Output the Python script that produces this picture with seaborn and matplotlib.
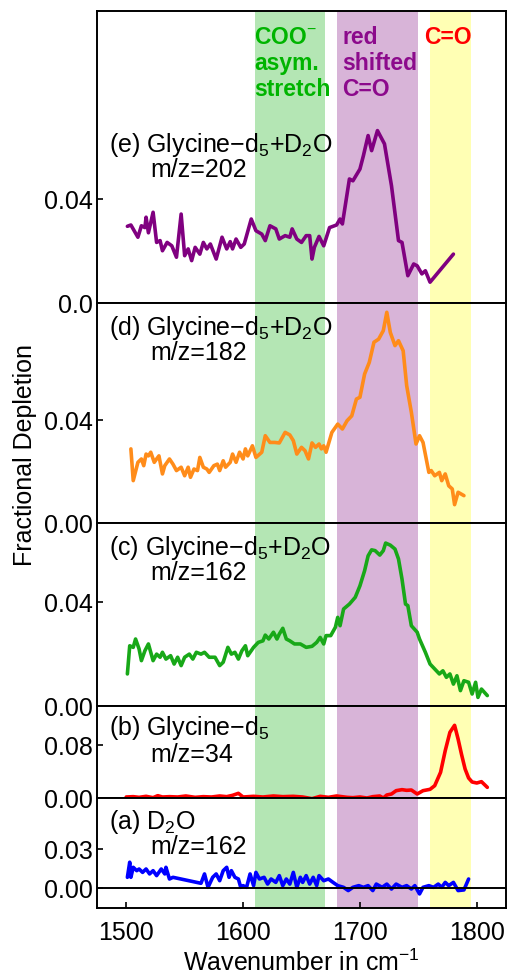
import matplotlib
matplotlib.use("Agg")
import numpy as np
import pandas as pd
import matplotlib.pyplot as plt
import seaborn as sns

# ---------------- data ----------------
bands = [(1610, 1670), (1680, 1750), (1760, 1795)]
band_colors = ["#b4e6b4", "#d8b4d8", "#ffffb4"]

e_x = [1501, 1504, 1510, 1513, 1516, 1517, 1519, 1523, 1526, 1529, 1531, 1535, 1539, 1543, 1547,
       1550, 1553, 1556, 1559, 1563, 1566, 1569, 1572, 1577, 1582, 1586, 1589, 1591, 1594, 1598,
       1601, 1607, 1611, 1616, 1619, 1623, 1628, 1631, 1636, 1640, 1642, 1646, 1650, 1654, 1657,
       1659, 1661, 1665, 1669, 1674, 1680, 1683, 1685, 1691, 1694, 1700, 1703, 1707, 1710, 1715,
       1721, 1727, 1733, 1736, 1741, 1746, 1749, 1753, 1756, 1760, 1780]
e_y = [0.0295, 0.030, 0.0253, 0.0297, 0.029, 0.033, 0.027, 0.0349, 0.0233, 0.024, 0.0201, 0.0233,
       0.022, 0.0176, 0.0342, 0.0182, 0.0208, 0.0163, 0.0214, 0.0188, 0.0233, 0.0208, 0.0227, 0.0169,
       0.0253, 0.0208, 0.0236, 0.0208, 0.0246, 0.0214, 0.0227, 0.0323, 0.0278, 0.0265, 0.024, 0.0297,
       0.0285, 0.0246, 0.0259, 0.0253, 0.0285, 0.0246, 0.0233, 0.0259, 0.0259, 0.0169, 0.0214, 0.0256,
       0.022, 0.029, 0.030, 0.0323, 0.0304, 0.0477, 0.047, 0.0515, 0.0567, 0.0644, 0.0586, 0.0663,
       0.0612, 0.0451, 0.024, 0.0233, 0.0105, 0.015, 0.0143, 0.0112, 0.0124, 0.008, 0.0188]

d_x = [1504, 1506, 1510, 1513, 1515, 1517, 1519, 1521, 1524, 1526, 1528, 1531, 1533, 1537, 1540,
       1543, 1547, 1550, 1553, 1555, 1558, 1561, 1563, 1566, 1569, 1571, 1575, 1578, 1580, 1583,
       1585, 1589, 1591, 1594, 1597, 1600, 1602, 1604, 1608, 1611, 1616, 1619, 1623, 1627, 1631,
       1636, 1640, 1643, 1646, 1650, 1653, 1656, 1659, 1662, 1665, 1667, 1669, 1671, 1676, 1681,
       1685, 1689, 1693, 1697, 1700, 1704, 1708, 1712, 1716, 1720, 1723, 1726, 1730, 1733, 1737,
       1740, 1744, 1748, 1751, 1754, 1759, 1761, 1764, 1768, 1770, 1773, 1776, 1779, 1781, 1784,
       1789]
d_y = [0.0287, 0.0164, 0.0235, 0.0248, 0.0222, 0.0267, 0.026, 0.0274, 0.0235, 0.0248, 0.026,
       0.019, 0.0222, 0.0248, 0.0228, 0.0203, 0.0216, 0.0183, 0.0216, 0.0177, 0.0209, 0.0203, 0.0254,
       0.0216, 0.0209, 0.0196, 0.0222, 0.0228, 0.0203, 0.0241, 0.0216, 0.0235, 0.0267, 0.0235, 0.0274,
       0.0248, 0.0287, 0.026, 0.0299, 0.0254, 0.0274, 0.0338, 0.0312, 0.0312, 0.031, 0.0351, 0.0341,
       0.0319, 0.0267, 0.0293, 0.028, 0.0248, 0.031, 0.0293, 0.0306, 0.0287, 0.0299, 0.0274, 0.0351,
       0.0383, 0.0364, 0.0396, 0.0415, 0.048, 0.0487, 0.0577, 0.0622, 0.070, 0.0712, 0.0745, 0.0816,
       0.0738, 0.0687, 0.0706, 0.0667, 0.0532, 0.0429, 0.0306, 0.0338, 0.0312, 0.0196, 0.0203, 0.0183,
       0.0196, 0.0164, 0.019, 0.0144, 0.0132, 0.0071, 0.0119, 0.0106]

c_x = [1501, 1503, 1506, 1508, 1511, 1513, 1516, 1519, 1523, 1526, 1529, 1531, 1534, 1538, 1541,
       1544, 1547, 1550, 1554, 1557, 1560, 1564, 1567, 1571, 1576, 1580, 1583, 1587, 1590, 1593,
       1596, 1599, 1602, 1604, 1609, 1613, 1617, 1619, 1622, 1626, 1629, 1631, 1634, 1637, 1640,
       1644, 1649, 1654, 1659, 1663, 1666, 1669, 1671, 1675, 1679, 1681, 1683, 1686, 1691, 1696,
       1700, 1704, 1707, 1710, 1713, 1717, 1720, 1722, 1726, 1730, 1733, 1736, 1739, 1741, 1744,
       1749, 1751, 1756, 1760, 1764, 1768, 1771, 1774, 1777, 1780, 1783, 1786, 1789, 1793, 1796,
       1799, 1801, 1804, 1809]
c_y = [0.0123, 0.0231, 0.0225, 0.0257, 0.0219, 0.0174, 0.0212, 0.0238, 0.0174, 0.0199, 0.0187,
       0.0206, 0.018, 0.0193, 0.0161, 0.0187, 0.0155, 0.0187, 0.0199, 0.018, 0.0206, 0.0199, 0.0206,
       0.0187, 0.0187, 0.0155, 0.0168, 0.0225, 0.0199, 0.0206, 0.018, 0.0212, 0.0231, 0.0193, 0.0225,
       0.0244, 0.025, 0.0272, 0.0257, 0.0283, 0.0257, 0.0276, 0.0298, 0.0257, 0.025, 0.0238, 0.0238,
       0.0225, 0.0229, 0.0244, 0.0263, 0.0238, 0.027, 0.027, 0.0302, 0.034, 0.0308, 0.0372, 0.0391,
       0.0417, 0.0461, 0.0519, 0.0576, 0.0599, 0.0596, 0.0579, 0.0596, 0.0625, 0.0617, 0.0602, 0.0564,
       0.0487, 0.0391, 0.0385, 0.0308, 0.0283, 0.0257, 0.0206, 0.0161, 0.0142, 0.0123, 0.0135, 0.011,
       0.0123, 0.0084, 0.0116, 0.0059, 0.0097, 0.0091, 0.0046, 0.0091, 0.0033, 0.0065, 0.004]

b_x = [1500, 1506, 1511, 1517, 1523, 1527, 1531, 1537, 1544, 1551, 1559, 1566, 1573, 1580, 1586,
       1591, 1596, 1600, 1609, 1617, 1626, 1634, 1643, 1651, 1659, 1666, 1673, 1680, 1689, 1694,
       1700, 1706, 1711, 1717, 1720, 1723, 1727, 1731, 1736, 1740, 1744, 1749, 1754, 1760, 1764,
       1769, 1773, 1777, 1781, 1784, 1787, 1790, 1793, 1796, 1800, 1804, 1809]
b_y = [0.0015, 0.002, 0.001, 0.0025, 0.0005, 0.0035, 0.0015, 0.002, 0.0015, 0.003, 0.001, 0.002,
       0.0015, 0.003, 0.002, 0.004, 0.007, 0.0015, 0.0025, 0.0015, 0.003, 0.002, 0.0025, 0.0015,
       -0.001, 0.0025, 0.001, 0.003, 0.001, 0.0005, 0.0015, 0.0, 0.002, 0.003, 0.0, 0.0045, 0.006,
       0.011, 0.0125, 0.0115, 0.012, 0.006, 0.011, 0.013, 0.0185, 0.0385, 0.071, 0.0985, 0.109,
       0.0885, 0.065, 0.0435, 0.030, 0.024, 0.0225, 0.0245, 0.016]

a_x = [1501, 1503, 1504, 1506, 1509, 1511, 1514, 1517, 1520, 1523, 1526, 1530, 1533, 1534, 1537,
       1540, 1564, 1567, 1570, 1574, 1577, 1580, 1583, 1586, 1588, 1590, 1593, 1596, 1598, 1600,
       1603, 1606, 1609, 1611, 1614, 1618, 1621, 1624, 1628, 1631, 1634, 1637, 1640, 1643, 1646,
       1649, 1651, 1654, 1657, 1660, 1663, 1665, 1669, 1673, 1677, 1681, 1686, 1690, 1694, 1699,
       1703, 1707, 1711, 1714, 1719, 1723, 1727, 1731, 1736, 1740, 1744, 1747, 1751, 1754, 1759,
       1763, 1767, 1770, 1773, 1776, 1780, 1784, 1789, 1793]
a_y = [0.0082, 0.0198, 0.0082, 0.0159, 0.0133, 0.0146, 0.012, 0.0146, 0.0108, 0.0133, 0.0095,
       0.0146, 0.0108, 0.0159, 0.0069, 0.0082, 0.0036, 0.0108, 0.0005, 0.0082, 0.0108, 0.0056,
       0.0133, 0.0159, 0.0082, 0.0133, 0.0082, 0.0069, 0.0005, 0.0018, 0.0005, 0.0108, 0.0018,
       0.012, 0.0069, 0.0082, 0.003, 0.0069, 0.0043, 0.0095, 0.0018, 0.0069, 0.003, 0.012, 0.0005,
       0.0082, 0.0043, 0.0095, 0.003, 0.0082, 0.0018, 0.0095, 0.0056, 0.0069, 0.0043, 0.0018,
       0.0005, -0.002, 0.0005, 0.0018, 0.0005, 0.0018, -0.002, 0.003, 0.0005, 0.003, -0.0008,
       0.003, 0.0005, 0.0018, -0.0008, 0.0018, -0.0046, 0.0005, 0.0018, 0.0005, 0.003, 0.0005,
       0.0043, 0.0018, 0.0043, -0.002, -0.0015, 0.0069]

panel_labels = ["(e) Glycine\u2212d$_5$+D$_2$O", "(d) Glycine\u2212d$_5$+D$_2$O",
                "(c) Glycine\u2212d$_5$+D$_2$O", "(b) Glycine\u2212d$_5$", "(a) D$_2$O"]
mz_labels = ["m/z=202", "m/z=182", "m/z=162", "m/z=34", "m/z=162"]
line_colors = ["#800080", "#ff8c1a", "#18a818", "#ff0000", "#0000ff"]
ylims = [(0, 0.1123), (0, 0.0852), (0, 0.0702), (0, 0.138), (-0.0154, 0.0692)]
yticks = [[0, 0.04], [0, 0.04], [0, 0.04], [0, 0.08], [0, 0.03]]
yticklabels = [["0.0", "0.04"], ["0.00", "0.04"], ["0.00", "0.04"], ["0.00", "0.08"], ["0.00", "0.03"]]
xticks = [1500, 1600, 1700, 1800]

# ---------------- style ----------------
sns.set_style("ticks")
plt.rcParams['font.family'] = ['Liberation Sans', 'DejaVu Sans']
plt.rcParams['mathtext.fontset'] = 'custom'
plt.rcParams['mathtext.rm'] = 'Liberation Sans'
plt.rcParams['mathtext.it'] = 'Liberation Sans:italic'
plt.rcParams['mathtext.bf'] = 'Liberation Sans:bold'
for k in ['text.color', 'axes.labelcolor', 'xtick.color', 'ytick.color']:
    plt.rcParams[k] = 'black'

W, H = 507, 979
fig = plt.figure(figsize=(W / 100, H / 100), dpi=100)
FS = 18

panels_px = [(12, 304), (304, 524), (524, 707), (707, 799), (799, 909)]
series = [(e_x, e_y), (d_x, d_y), (c_x, c_y), (b_x, b_y), (a_x, a_y)]
label_y = [(145, 170), (328, 353), (548, 573), (728, 755), (822, 847)]

L, R = 97, 506
axes = []
for i, (top, bot) in enumerate(panels_px):
    ax = fig.add_axes([L / W, 1 - bot / H, (R - L) / W, (bot - top) / H])
    axes.append(ax)
    for (x0, x1), bc in zip(bands, band_colors):
        ax.axvspan(x0, x1, color=bc, lw=0, zorder=0)
    xs, ys = series[i]
    df = pd.DataFrame({"x": xs, "y": ys})
    sns.lineplot(data=df, x="x", y="y", ax=ax, color=line_colors[i], lw=2.6,
                 estimator=None, sort=False, zorder=3)
    ax.set_xlim(1475, 1825)
    ax.set_ylim(*ylims[i])
    ax.set_yticks(yticks[i])
    ax.set_yticklabels(yticklabels[i])
    ax.set_xlabel("")
    ax.set_ylabel("")
    for s in ax.spines.values():
        s.set_linewidth(1.4)
        s.set_color("black")
        s.set_zorder(5)
    ax.tick_params(axis='y', direction='in', length=4, width=1.2, pad=3, labelsize=FS)
    ax.set_xticks(xticks)
    if i < 4:
        ax.tick_params(axis='x', bottom=False, labelbottom=False)
    else:
        ax.tick_params(axis='x', direction='in', length=4, width=1.2, pad=9, labelsize=FS)
        ax.axhline(0, color="black", lw=1.4, zorder=4)
        ax.set_xlabel("Wavenumber in cm$^{-1}$", fontsize=FS, labelpad=3)
    fig.text(109 / W, 1 - label_y[i][0] / H, panel_labels[i], fontsize=FS, va='center', ha='left')
    fig.text(150 / W, 1 - label_y[i][1] / H, mz_labels[i], fontsize=FS, va='center', ha='left')

fig.text(25 / W, 1 - 455 / H, "Fractional Depletion", rotation=90, fontsize=FS,
         va='center', ha='center')

# band annotations
ann = [
    (254, ["COO$^{-}$", "asym.", "stretch"], "#00b400"),
    (342, ["red", "shifted", "C=O"], "#8c0a8c"),
    (424, ["C=O"], "#ff0000"),
]
for xp, lines, col in ann:
    for k, t in enumerate(lines):
        fig.text(xp / W, 1 - (37 + 26.5 * k) / H, t, fontsize=16.5, fontweight='bold',
                 color=col, va='center', ha='left')

fig.savefig("out.png", dpi=100)
